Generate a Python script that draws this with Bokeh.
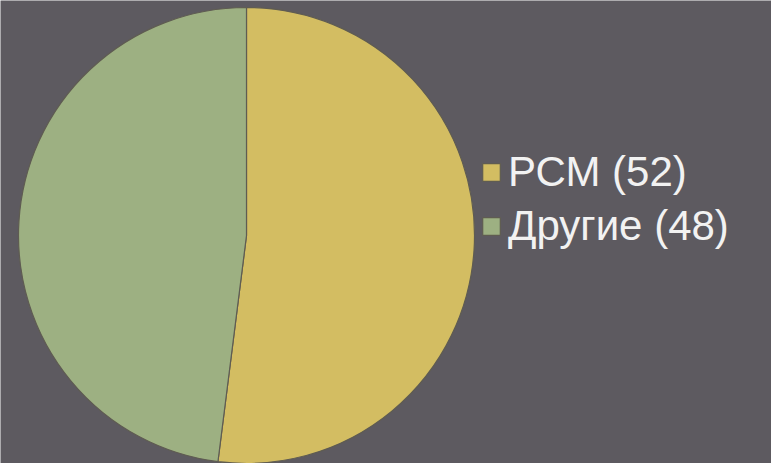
import math
from bokeh.plotting import figure
from bokeh.models import Range1d, Legend, LegendItem, ColumnDataSource
from bokeh.embed import file_html
from bokeh.resources import INLINE

labels = ["РСМ (52)", "Другие (48)"]
values = [52, 48]
colors = ["#d3bd62", "#9db082"]

W, H = 771, 463
p = figure(width=W, height=H, output_backend="svg", toolbar_location=None,
           x_range=Range1d(0, W), y_range=Range1d(0, H), min_border=0)
p.axis.visible = False
p.grid.visible = False
p.outline_line_color = None
p.background_fill_color = "#5d5a60"
p.border_fill_color = "#5d5a60"

total = sum(values)
starts, ends = [], []
a = math.pi / 2
for v in values:
    starts.append(a)
    a = a - v / total * 2 * math.pi
    ends.append(a)

src = ColumnDataSource(dict(label=labels, value=values, color=colors,
                            start=starts, end=ends))
cx, cy, r = 246, H - 235, 228
wr = p.wedge(x=cx, y=cy, radius=r, start_angle="start", end_angle="end",
             direction="clock", fill_color="color", line_color="#5f5c52",
             line_width=1.2, source=src)

items = [LegendItem(label=labels[i], renderers=[wr], index=i) for i in range(len(labels))]
legend = Legend(items=items, location=(480, H - 250), padding=0, margin=0,
                glyph_width=22, glyph_height=22, label_standoff=6, spacing=6,
                label_text_font="Liberation Sans", label_text_font_size="42px",
                label_text_color="#f2f2f2", background_fill_alpha=0,
                border_line_alpha=0, label_height=42)
p.add_layout(legend)

open("out.html", "w").write(file_html(p, INLINE))
